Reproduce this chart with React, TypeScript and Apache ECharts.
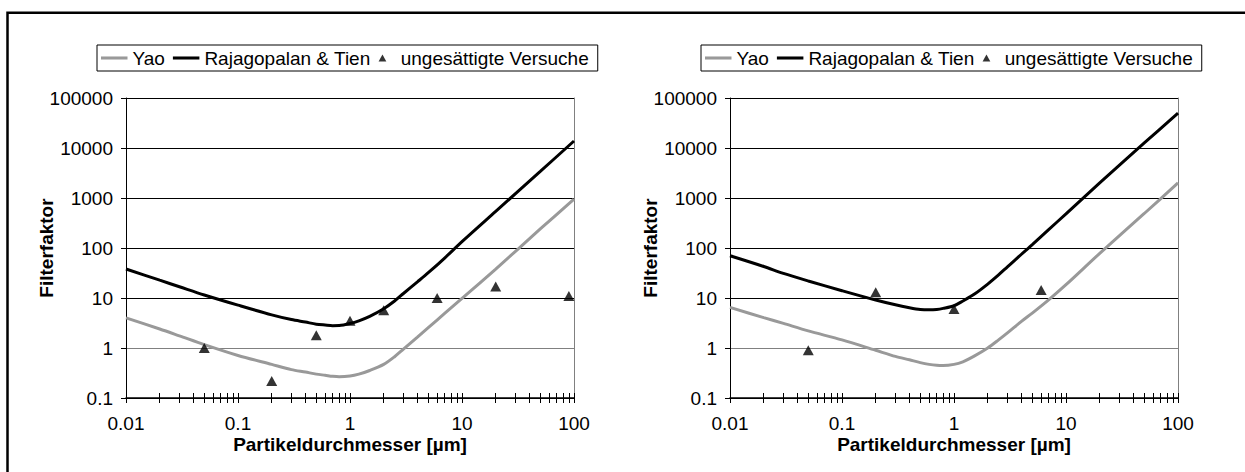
import React, { useEffect, useRef } from 'react';
import * as echarts from 'echarts';

// ---- data ----
const xValues = [0.01, 0.02, 0.03, 0.05, 0.1, 0.2, 0.3, 0.4, 0.5, 0.6, 0.7, 0.8, 1, 1.2, 1.5, 2, 2.5, 3, 4, 5, 7, 10, 20, 50, 100];

const yaoLeft = [4.0, 2.4, 1.75, 1.17, 0.71, 0.47, 0.37, 0.33, 0.3, 0.285, 0.272, 0.266, 0.275, 0.3, 0.355, 0.47, 0.67, 0.95, 1.65, 2.55, 4.9, 9.8, 38, 240, 950];
const rtLeft = [38, 22.7, 16.8, 11.5, 7.2, 4.6, 3.7, 3.3, 3.0, 2.88, 2.8, 2.82, 3.1, 3.5, 4.3, 6.1, 8.7, 12.3, 21, 32, 63, 134, 540, 3400, 13800];
const expLeftX = [0.05, 0.2, 0.5, 1, 2, 6, 20, 90];
const expLeftY = [1.0, 0.22, 1.8, 3.5, 5.7, 10, 17, 11];

const yaoRight = [6.5, 4.05, 3.1, 2.2, 1.45, 0.9, 0.68, 0.58, 0.51, 0.47, 0.45, 0.445, 0.47, 0.53, 0.68, 1.0, 1.45, 2.0, 3.4, 5.0, 9.2, 18.5, 78, 490, 2000];
const rtRight = [70, 42.7, 31, 21.9, 14, 9.1, 7.3, 6.4, 5.9, 5.8, 5.9, 6.2, 7.0, 8.7, 11.7, 19, 29, 42, 75, 117, 234, 480, 2000, 12600, 50000];
const expRightX = [0.05, 0.2, 1, 6];
const expRightY = [0.9, 13, 6, 14.5];

const xTickValues = [0.01, 0.1, 1, 10, 100];
const xTickLabels = ['0.01', '0.1', '1', '10', '100'];
const xMinorFactors = [1, 2, 3, 4, 5, 6, 7, 8, 9];
const yTickValues = [0.1, 1, 10, 100, 1000, 10000, 100000];
const yTickLabels = ['0.1', '1', '10', '100', '1000', '10000', '100000'];

const seriesNames = ['Yao', 'Rajagopalan & Tien', 'ungesättigte Versuche'];
const xTitle = 'Partikeldurchmesser [µm]';
const yTitle = 'Filterfaktor';

// ---- styles ----
const FONT = '"Liberation Sans", Arial, sans-serif';
const GRAY = '#999999';
const BLACK = '#000000';

const labelFor = (vals: number[], labels: string[]) => (v: number) => {
  const i = vals.findIndex((t) => Math.abs(Math.log10(t) - Math.log10(v)) < 1e-6);
  return i >= 0 ? labels[i] : '';
};

const xTicksAll: number[] = [];
xTickValues.forEach((d, i) => {
  if (i === xTickValues.length - 1) {
    xTicksAll.push(d);
  } else {
    xMinorFactors.forEach((f) => xTicksAll.push(+(d * f).toPrecision(6)));
  }
});

const panels = [
  { gridLeft: 126, legendLeft: 97, yao: yaoLeft, rt: rtLeft, ex: expLeftX, ey: expLeftY },
  { gridLeft: 730, legendLeft: 701, yao: yaoRight, rt: rtRight, ex: expRightX, ey: expRightY },
];

const lineIcon = 'path://M0,0L26,0L26,3L0,3Z';
const triIcon = 'path://M5,0L10,9L0,9Z';

function buildOption() {
  const grid: any[] = [];
  const xAxis: any[] = [];
  const yAxis: any[] = [];
  const series: any[] = [];
  const legend: any[] = [];

  panels.forEach((p, pi) => {
    grid.push({ left: p.gridLeft, top: 98, width: 448, height: 300, containLabel: false });

    xAxis.push({
      type: 'log',
      logBase: 10,
      gridIndex: pi,
      min: 0.01,
      max: 100,
      position: 'bottom',
      axisLine: { show: true, onZero: false, lineStyle: { color: BLACK, width: 1.5 } },
      axisTick: { show: true, inside: false, length: 5, customValues: xTicksAll, lineStyle: { color: BLACK, width: 1 } },
      axisLabel: {
        show: true,
        customValues: xTickValues,
        formatter: labelFor(xTickValues, xTickLabels),
        margin: 16,
        fontSize: 19,
        color: BLACK,
        fontFamily: FONT,
      },
      splitLine: { show: false },
      minorTick: { show: false },
      name: xTitle,
      nameLocation: 'middle',
      nameGap: 37,
      nameMoveOverlap: false,
      nameTextStyle: { fontWeight: 'bold', fontSize: 19, color: BLACK, fontFamily: FONT },
    });
    xAxis.push({
      type: 'log',
      logBase: 10,
      gridIndex: pi,
      min: 0.01,
      max: 100,
      position: 'bottom',
      axisLine: { show: false, onZero: false },
      axisTick: { show: true, inside: true, length: 5, customValues: xTicksAll, lineStyle: { color: BLACK, width: 1 } },
      axisLabel: { show: false },
      splitLine: { show: false },
    });

    yAxis.push({
      type: 'log',
      logBase: 10,
      gridIndex: pi,
      min: 0.1,
      max: 100000,
      position: 'left',
      axisLine: { show: true, onZero: false, lineStyle: { color: BLACK, width: 1 } },
      axisTick: { show: true, inside: false, length: 5, customValues: yTickValues, lineStyle: { color: BLACK } },
      axisLabel: {
        show: true,
        customValues: yTickValues,
        formatter: labelFor(yTickValues, yTickLabels),
        margin: 13,
        fontSize: 19,
        color: BLACK,
        fontFamily: FONT,
      },
      splitLine: {
        show: true,
        lineStyle: { color: [BLACK, '#808080', BLACK, BLACK, BLACK, BLACK, BLACK], width: 1 },
      },
      name: yTitle,
      nameLocation: 'middle',
      nameGap: 70,
      nameMoveOverlap: false,
      nameTextStyle: { fontWeight: 'bold', fontSize: 19, color: BLACK, fontFamily: FONT },
    });
    yAxis.push({
      type: 'log',
      logBase: 10,
      gridIndex: pi,
      min: 0.1,
      max: 100000,
      position: 'right',
      axisLine: { show: true, onZero: false, lineStyle: { color: '#808080', width: 1 } },
      axisTick: { show: false },
      axisLabel: { show: false },
      splitLine: { show: false },
    });

    const xi = pi * 2;
    const yi = pi * 2;
    series.push({
      type: 'line',
      name: seriesNames[0],
      xAxisIndex: xi,
      yAxisIndex: yi,
      data: xValues.map((x, i) => [x, p.yao[i]]),
      symbol: 'none',
      smooth: 0.3,
      lineStyle: { color: GRAY, width: 3 },
      itemStyle: { color: GRAY },
      z: 2,
    });
    series.push({
      type: 'line',
      name: seriesNames[1],
      xAxisIndex: xi,
      yAxisIndex: yi,
      data: xValues.map((x, i) => [x, p.rt[i]]),
      symbol: 'none',
      smooth: 0.3,
      lineStyle: { color: BLACK, width: 3 },
      itemStyle: { color: BLACK },
      z: 3,
    });
    series.push({
      type: 'scatter',
      name: seriesNames[2],
      xAxisIndex: xi,
      yAxisIndex: yi,
      data: p.ex.map((x, i) => [x, p.ey[i]]),
      symbol: 'triangle',
      symbolSize: [11, 10],
      itemStyle: { color: BLACK },
      z: 4,
    });

    legend.push({
      left: p.legendLeft,
      top: 45,
      orient: 'horizontal',
      itemWidth: 26.5,
      itemHeight: 7,
      itemGap: 8,
      padding: [3, 9, 3, 4],
      borderColor: BLACK,
      borderWidth: 1,
      selectedMode: false,
      itemStyle: { borderWidth: 0 },
      textStyle: { fontSize: 19, lineHeight: 20, color: BLACK, fontFamily: FONT },
      data: [
        { name: seriesNames[0], icon: lineIcon },
        { name: seriesNames[1], icon: lineIcon },
        { name: seriesNames[2], icon: triIcon },
      ],
    });
  });

  return {
    animation: false,
    backgroundColor: '#ffffff',
    textStyle: { fontFamily: FONT },
    grid,
    xAxis,
    yAxis,
    legend,
    series,
    graphic: [
      {
        type: 'polyline',
        silent: true,
        shape: { points: [[7.5, 480], [7.5, 12.7], [1260, 12.7]] },
        style: { stroke: BLACK, lineWidth: 2.5, fill: null },
        z: 10,
      },
    ],
  };
}

export default function App() {
  const ref = useRef<HTMLDivElement>(null);
  useEffect(() => {
    if (!ref.current) return;
    const chart = echarts.init(ref.current, undefined, { renderer: 'svg' });
    chart.setOption(buildOption() as any);
    return () => chart.dispose();
  }, []);
  return (
    <div
      ref={ref}
      style={{ position: 'absolute', left: 0, top: 0, width: 1245, height: 472, background: '#fff' }}
    />
  );
}
